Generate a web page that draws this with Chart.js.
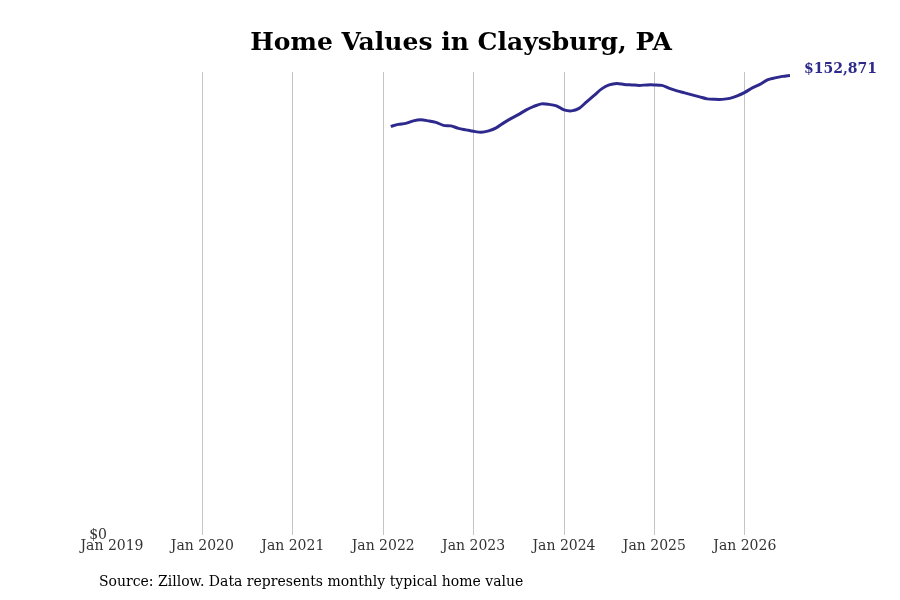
<!DOCTYPE html>
<html>
<head>
<meta charset="utf-8">
<script src="https://cdn.jsdelivr.net/npm/chart.js@4"></script>
<style>
  html, body { margin: 0; padding: 0; background: #fff; }
  #wrap { width: 900px; height: 600px; }
</style>
</head>
<body>
<div id="wrap"><canvas id="homeChart"></canvas></div>
<script>
// months counted from Jan 2019 (0); series starts Feb 2022
const startMonth = 37;
const tickLabels = ['Jan 2019', 'Jan 2020', 'Jan 2021', 'Jan 2022', 'Jan 2023', 'Jan 2024', 'Jan 2025', 'Jan 2026'];
const homeValues = [
    135920, 136585, 136917, 137748, 138081, 137748, 137250, 136253, 136087, 135257, 134758,
    134260, 133928, 134426, 135422, 137084, 138580, 139909, 141404, 142568, 143398, 143232, 142734,
    141404, 141072, 141903, 144063, 146224, 148384, 149713, 150212, 149880, 149713, 149547, 149713,
    149713, 149547, 148550, 147719, 147054, 146390, 145725, 145061, 144895, 144895, 145227, 146058,
    147221, 148717, 149880, 151376, 152040, 152539, 152871
];
const lineColor = '#2e2a8d';
const serif = '"DejaVu Serif", serif';

const points = homeValues.map((v, i) => ({ x: startMonth + i, y: v }));

const textPlugin = {
    id: 'textPlugin',
    afterDraw(chart) {
        const ctx = chart.ctx;
        ctx.save();
        ctx.fillStyle = '#000';
        ctx.font = 'bold 25px ' + serif;
        ctx.textAlign = 'center';
        ctx.textBaseline = 'middle';
        ctx.fillText('Home Values in Claysburg, PA', 461, 43);

        ctx.font = '14px ' + serif;
        ctx.textAlign = 'left';
        ctx.fillText('Source: Zillow. Data represents monthly typical home value', 99, 582);

        const meta = chart.getDatasetMeta(0);
        const last = meta.data[meta.data.length - 1];
        ctx.fillStyle = lineColor;
        ctx.font = 'bold 14px ' + serif;
        ctx.fillText('$' + homeValues[homeValues.length - 1].toLocaleString('en-US'), last.x + 14, last.y - 6);
        ctx.restore();
    }
};

const ctxHome = document.getElementById('homeChart').getContext('2d');
new Chart(ctxHome, {
    type: 'line',
    data: {
        datasets: [{
            data: points,
            borderColor: lineColor,
            borderWidth: 3,
            pointRadius: 0,
            tension: 0.3,
            fill: false
        }]
    },
    options: {
        responsive: true,
        maintainAspectRatio: false,
        animation: false,
        layout: { padding: { top: 72, right: 110, bottom: 35, left: 72 } },
        plugins: {
            legend: { display: false },
            tooltip: { enabled: false }
        },
        scales: {
            x: {
                type: 'linear',
                min: 0,
                max: 90,
                afterBuildTicks: s => { s.ticks = tickLabels.map((t, i) => ({ value: i * 12 })); },
                afterFit: s => { s.height = 30; },
                border: { display: false },
                grid: {
                    drawTicks: false,
                    color: c => c.tick && c.tick.value === 0 ? 'rgba(0,0,0,0)' : '#c4c4c4'
                },
                ticks: {
                    padding: 3,
                    color: '#333',
                    maxRotation: 0,
                    font: { family: serif, size: 14 },
                    callback: v => tickLabels[v / 12]
                }
            },
            y: {
                min: 0,
                max: 154000,
                afterBuildTicks: s => { s.ticks = [{ value: 0 }]; },
                afterFit: s => { s.width = 40; },
                border: { display: false },
                grid: { display: false, drawTicks: false },
                ticks: {
                    padding: 5,
                    color: '#333',
                    font: { family: serif, size: 14 },
                    callback: v => '$' + v
                }
            }
        }
    },
    plugins: [textPlugin]
});
</script>
</body>
</html>
